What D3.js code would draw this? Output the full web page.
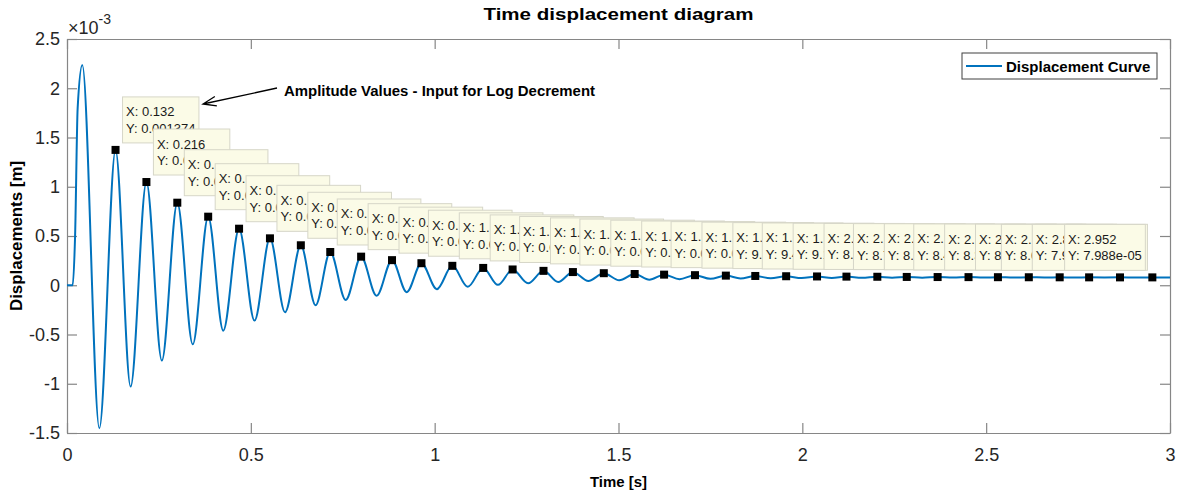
<!DOCTYPE html>
<html>
<head>
<meta charset="utf-8">
<script src="https://cdn.jsdelivr.net/npm/d3@7"></script>
<style>
  body { margin: 0; background: #fff; }
  svg { display: block; }
  text { font-family: "Liberation Sans", Arial, Helvetica, sans-serif; }
</style>
</head>
<body>
<svg id="chart" width="1179" height="490"></svg>
<script>
// ---- Displacement record: extrema of the damped free vibration (time in s, displacement in m)
const leadTimes  = [0, 0.0155, 0.022, 0.029];
const leadValues = [0, 0, 0.00050, 0.00180];
const firstPeakTime  = 0.0416;
const firstPeakValue = 0.002236;

// Picked amplitude peaks (these carry data tips)
const peakTimes = [0.132, 0.216, 0.300, 0.384, 0.468, 0.552, 0.636, 0.716, 0.800, 0.884,
                   0.964, 1.048, 1.132, 1.212, 1.296, 1.376, 1.460, 1.544, 1.624, 1.708,
                   1.792, 1.872, 1.956, 2.040, 2.120, 2.204, 2.284, 2.368, 2.452, 2.532,
                   2.616, 2.700, 2.780, 2.864, 2.952];
const peakValues = [0.001374, 0.001048, 0.0008381, 0.0006962, 0.0005741, 0.0004763, 0.0004058,
                    0.0003376, 0.0002903, 0.0002548, 0.0002237, 0.0001972, 0.0001759, 0.0001602,
                    0.0001461, 0.0001339, 0.0001224, 0.0001141, 0.0001078, 0.0001024, 9.781e-05,
                    9.423e-05, 9.148e-05, 8.931e-05, 8.762e-05, 8.618e-05, 8.447e-05, 8.334e-05,
                    8.251e-05, 8.187e-05, 8.122e-05, 8.068e-05, 8.021e-05, 7.996e-05, 7.988e-05];

// Troughs between consecutive peaks
const troughTimes = [0.088, 0.173, 0.258, 0.342, 0.425, 0.510, 0.593, 0.676, 0.758, 0.842,
                     0.924, 1.006, 1.090, 1.172, 1.254, 1.336, 1.418, 1.502, 1.584, 1.666,
                     1.750, 1.832, 1.914, 1.998, 2.080, 2.162, 2.244, 2.326, 2.410, 2.492,
                     2.574, 2.658, 2.740, 2.822, 2.908];
const troughValues = [-0.001452, -0.001029, -0.000765, -0.000599, -0.000461, -0.000359, -0.000274,
                      -0.000203, -0.000149, -0.000106, -0.000070, -0.000040, -0.000016, 0.000004,
                      0.000020, 0.000033, 0.000043, 0.000051, 0.000057, 0.000062, 0.000066,
                      0.000069, 0.000071, 0.000073, 0.0000745, 0.0000755, 0.0000764, 0.0000771,
                      0.0000776, 0.0000780, 0.0000784, 0.0000787, 0.0000789, 0.0000791, 0.0000792];

const tailTimes  = [3.0];
const tailValues = [0.0000793];

// ---- Axis ticks
const xTickValues = [0, 0.5, 1, 1.5, 2, 2.5, 3];
const xTickLabels = ["0", "0.5", "1", "1.5", "2", "2.5", "3"];
const yTickValues = [-0.0015, -0.001, -0.0005, 0, 0.0005, 0.001, 0.0015, 0.002, 0.0025];
const yTickLabels = ["-1.5", "-1", "-0.5", "0", "0.5", "1", "1.5", "2", "2.5"];

// ---- Layout
const W = 1179, H = 490;
const margin = { left: 67, right: 9, top: 39, bottom: 57 };
const plotW = W - margin.left - margin.right;
const plotH = H - margin.top - margin.bottom;

const svg = d3.select("#chart");
const g = svg.append("g").attr("transform", `translate(${margin.left},${margin.top})`);

const x = d3.scaleLinear().domain([0, 3]).range([0, plotW]);
const y = d3.scaleLinear().domain([-0.0015, 0.0025]).range([plotH, 0]);

const axisColor = "#868686";
const labelColor = "#262626";

function styleAxis(sel) {
  sel.select(".domain").attr("stroke", axisColor).attr("stroke-width", 1.2);
  sel.selectAll(".tick line").attr("stroke", axisColor).attr("stroke-width", 1.2);
  sel.selectAll(".tick text").attr("fill", labelColor)
     .style("font-size", "18px").style("font-family", "\"Liberation Sans\", Arial, sans-serif");
}

// Bottom and left axes with labels, ticks pointing inward
g.append("g").attr("transform", `translate(0,${plotH})`)
  .call(d3.axisBottom(x).tickValues(xTickValues)
        .tickFormat((d, i) => xTickLabels[i]).tickSizeInner(-10).tickSizeOuter(0).tickPadding(15))
  .call(styleAxis);
g.append("g")
  .call(d3.axisLeft(y).tickValues(yTickValues)
        .tickFormat((d, i) => yTickLabels[i]).tickSizeInner(-10).tickSizeOuter(0).tickPadding(7))
  .call(styleAxis);
// Top and right box edges with inward ticks
g.append("g")
  .call(d3.axisTop(x).tickValues(xTickValues).tickFormat("").tickSizeInner(-10).tickSizeOuter(0))
  .call(styleAxis);
g.append("g").attr("transform", `translate(${plotW},0)`)
  .call(d3.axisRight(y).tickValues(yTickValues).tickFormat("").tickSizeInner(-10).tickSizeOuter(0))
  .call(styleAxis);

// Exponent multiplier above the y axis
const expo = svg.append("text").attr("x", 68).attr("y", 34)
  .attr("fill", labelColor).style("font-size", "18px");
expo.append("tspan").text("\u00d710");
expo.append("tspan").attr("dy", -10).style("font-size", "14px").text("-3");

// ---- Displacement curve
const curvePts = [];
leadTimes.forEach((t, i) => curvePts.push([t, leadValues[i]]));
curvePts.push([firstPeakTime, firstPeakValue]);
peakTimes.forEach((t, i) => curvePts.push([t, peakValues[i]]));
troughTimes.forEach((t, i) => curvePts.push([t, troughValues[i]]));
tailTimes.forEach((t, i) => curvePts.push([t, tailValues[i]]));
curvePts.sort((a, b) => a[0] - b[0]);

const lineColor = "#0072BD";
g.append("path")
  .datum(curvePts)
  .attr("fill", "none")
  .attr("stroke", lineColor)
  .attr("stroke-width", 2)
  .attr("stroke-linejoin", "round")
  .attr("d", d3.line().x(d => x(d[0])).y(d => y(d[1])).curve(d3.curveMonotoneX));

// ---- Data tips (number format like %0.4g)
function g4(v) {
  if (v === 0) return "0";
  const e = Math.floor(Math.log10(Math.abs(v)));
  if (e < -4 || e >= 5) {
    let [m, ex] = v.toExponential(3).split("e");
    if (m.includes(".")) m = m.replace(/0+$/, "").replace(/\.$/, "");
    const sign = ex[0] === "-" ? "-" : "+";
    let digits = ex.replace(/^[+-]/, "");
    if (digits.length < 2) digits = "0" + digits;
    return m + "e" + sign + digits;
  }
  return String(+v.toPrecision(4));
}

const tipH = 46, gap = 7, padX = 3.5;
const tipFont = "13px \"Liberation Sans\", Arial, sans-serif";
const measureCtx = document.createElement("canvas").getContext("2d");
measureCtx.font = tipFont;
const textW = s => measureCtx.measureText(s).width;

// Box geometry for every tip (a tip flips to the left of its point near the right edge)
const tips = peakTimes.map((t, i) => {
  const px = x(t), py = y(peakValues[i]);
  const lines = ["X: " + g4(t), "Y: " + g4(peakValues[i])];
  const w = Math.max(textW(lines[0]), textW(lines[1])) + 7;
  let left = px + gap;
  if (left + w > plotW) left = px - gap - w;
  return { px, py, lines, w, left, top: py - gap - tipH };
});

// Later tips are stacked over earlier ones: keep only the characters that stay in view
function visibleText(i, str, lineMid, x0) {
  let end = Infinity;
  for (let j = i + 1; j < tips.length; j++) {
    const b = tips[j];
    if (b.top <= lineMid && b.top + tipH >= lineMid && b.left + b.w > x0) {
      end = Math.min(end, Math.max(b.left, x0));
    }
  }
  let out = "";
  for (const ch of str) {
    if (x0 + textW(out) >= end - 1) break;
    out += ch;
  }
  return out;
}

const tipLayer = g.append("g");
tips.forEach((tp, i) => {
  const tip = tipLayer.append("g");
  tip.append("rect")
    .attr("x", tp.left).attr("y", tp.top).attr("width", tp.w).attr("height", tipH)
    .attr("fill", "#fbfbe7").attr("stroke", "#d6d6c8").attr("stroke-width", 1);
  const baselines = [tp.top + 19.5, tp.top + 36];
  const mids = [tp.top + 15, tp.top + 31];
  tp.lines.forEach((s, k) => {
    const shown = visibleText(i, s, mids[k], tp.left + padX);
    if (!shown) return;
    tip.append("text")
      .attr("x", tp.left + padX).attr("y", baselines[k])
      .attr("fill", "#1a1a1a").style("font-size", "13px")
      .text(shown);
  });
});

// Peak markers
g.append("g").selectAll("rect")
  .data(peakTimes.map((t, i) => [t, peakValues[i]]))
  .join("rect")
  .attr("x", d => x(d[0]) - 4)
  .attr("y", d => y(d[1]) - 4)
  .attr("width", 8).attr("height", 8)
  .attr("fill", "#000");

// ---- Annotation with arrow
svg.append("text").attr("x", 284).attr("y", 96)
  .attr("font-weight", "bold").attr("fill", "#000").style("font-size", "15px")
  .attr("textLength", 311).attr("lengthAdjust", "spacingAndGlyphs")
  .text("Amplitude Values - Input for Log Decrement");
const ax0 = 277, ay0 = 88, ax1 = 203, ay1 = 104;
const ang = Math.atan2(ay0 - ay1, ax0 - ax1);
const headLen = 14, headAng = 0.35;
svg.append("path")
  .attr("fill", "none").attr("stroke", "#000").attr("stroke-width", 1.3)
  .attr("d", `M${ax0},${ay0}L${ax1},${ay1}` +
    `M${ax1 + headLen * Math.cos(ang + headAng)},${ay1 + headLen * Math.sin(ang + headAng)}L${ax1},${ay1}` +
    `L${ax1 + headLen * Math.cos(ang - headAng)},${ay1 + headLen * Math.sin(ang - headAng)}`);

// ---- Legend
const lg = svg.append("g").attr("transform", "translate(962,53)");
lg.append("rect").attr("width", 195).attr("height", 26).attr("fill", "#fff")
  .attr("stroke", "#404040").attr("stroke-width", 1);
lg.append("line").attr("x1", 4).attr("x2", 40).attr("y1", 13).attr("y2", 13)
  .attr("stroke", lineColor).attr("stroke-width", 2);
lg.append("text").attr("x", 44).attr("y", 18.5).attr("font-weight", "bold")
  .attr("fill", "#000").style("font-size", "15px").text("Displacement Curve");

// ---- Titles
svg.append("text").attr("x", margin.left + plotW / 2).attr("y", 20)
  .attr("text-anchor", "middle").attr("font-weight", "bold").attr("fill", "#000")
  .style("font-size", "17px").attr("textLength", 270).attr("lengthAdjust", "spacingAndGlyphs")
  .text("Time displacement diagram");
svg.append("text").attr("x", margin.left + plotW / 2).attr("y", 487)
  .attr("text-anchor", "middle").attr("font-weight", "bold").attr("fill", "#000")
  .style("font-size", "15px").attr("textLength", 57).attr("lengthAdjust", "spacingAndGlyphs")
  .text("Time [s]");
svg.append("text").attr("transform", `translate(22,${margin.top + plotH / 2}) rotate(-90)`)
  .attr("text-anchor", "middle").attr("font-weight", "bold").attr("fill", "#000")
  .style("font-size", "16px").attr("textLength", 150).attr("lengthAdjust", "spacingAndGlyphs")
  .text("Displacements [m]");
</script>
</body>
</html>
